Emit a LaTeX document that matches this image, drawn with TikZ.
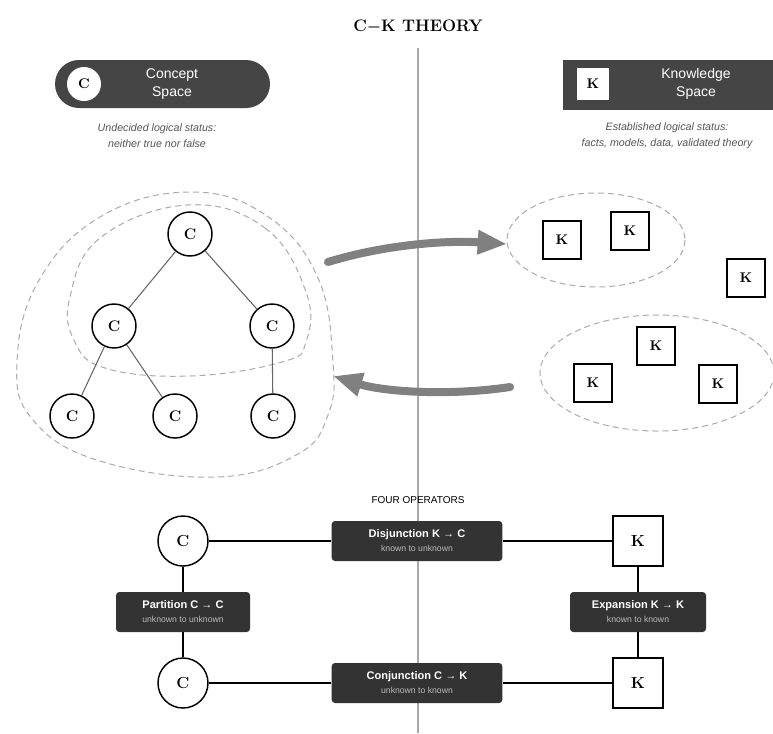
\documentclass[tikz,border=0pt]{standalone}
\usepackage{fontspec}
\setsansfont{Liberation Sans}
\usetikzlibrary{arrows.meta}
\definecolor{panelgray}{HTML}{454545}
\definecolor{opgray}{HTML}{333333}
\definecolor{capgray}{HTML}{555555}
\definecolor{subgray}{HTML}{BBBBBB}
\definecolor{dashgray}{HTML}{AAAAAA}
\definecolor{arrowgray}{HTML}{808080}

\begin{document}
\begin{tikzpicture}[x=0.75pt,y=-0.75pt,
	cnode/.style={draw,circle,line width=1.1pt,fill=white,inner sep=0pt,minimum size=33pt,font=\bfseries\fontsize{11.5}{13}\selectfont},
	knode/.style={draw,rectangle,line width=1.1pt,fill=white,inner sep=0pt,minimum size=28.5pt,font=\bfseries\fontsize{10.5}{12}\selectfont},
	opnode/.style={fill=opgray,rounded corners=2.5pt,text=white,align=center,minimum height=30pt,inner sep=0pt,font=\sffamily\bfseries\fontsize{8.3}{10.5}\selectfont},
	caption/.style={text=capgray,align=center,font=\sffamily\itshape\fontsize{8}{12}\selectfont},
	region/.style={draw=dashgray,line width=0.75pt,dash pattern=on 4.5pt off 3pt},
	flow/.style={draw=arrowgray,line width=6pt,line cap=round,-{Triangle[length=22pt,width=17pt]}},
	edge/.style={draw=black!60,line width=0.8pt}]
					\useasboundingbox (0,0) rectangle (773,733);
					\draw [line width=2.2pt,dashgray] (418,48) -- (418,733);
					\node (title) at (418,27) {\bfseries\fontsize{12.5}{14}\selectfont C{\boldmath$-$}K THEORY};
					\node[fill=panelgray,rounded corners=18pt,minimum width=161.25pt,minimum height=36pt] (cspace) at (162.5,84) {};
					\node[circle,fill=white,inner sep=0pt,minimum size=25.5pt,font=\bfseries\fontsize{10.5}{12}\selectfont] (cicon) at (84,84) {C};
					\node[text=white,align=center,font=\sffamily\fontsize{10.5}{13.5}\selectfont] (clabel) at (172,84) {Concept\\Space};
					\node[caption] (ccap) at (157,136) {Undecided logical status:\\neither true nor false};
					\node[fill=panelgray,minimum width=157.5pt,minimum height=37.5pt] (kspace) at (668,85) {};
					\node[fill=white,inner sep=0pt,minimum size=24pt,font=\bfseries\fontsize{10.5}{12}\selectfont] (kicon) at (593,84) {K};
					\node[text=white,align=center,font=\sffamily\fontsize{10.5}{13.5}\selectfont] (klabel) at (696,84) {Knowledge\\Space};
					\node[caption] (kcap) at (667,136) {Established logical status:\\facts, models, data, validated theory};
					\draw [region] plot[smooth cycle,tension=0.7] coordinates {(190,192) (267,216) (318,278) (333,363) (328,415) (298,454) (217,477) (100,461) (33,420) (17,363) (38,282) (100,217)};
					\draw [region] plot[smooth cycle,tension=0.7] coordinates {(187,205) (265,228) (306,292) (306,342) (282,362) (190,376) (105,368) (74,340) (70,297) (100,238)};
					\draw [region] (596,240) ellipse (89 and 47);
					\draw [region] (657,373) ellipse (117 and 58);
					\begin{scope}[every node/.style={cnode}]
						\node (C0) at (190,234) {C};
						\node (C1) at (114,326) {C};
						\node (C2) at (272,326) {C};
						\node (C3) at (72,416) {C};
						\node (C4) at (175,416) {C};
						\node (C5) at (273,416) {C};
					\end{scope}
					\draw [edge] (C0) -- (C1);
					\draw [edge] (C0) -- (C2);
					\draw [edge] (C1) -- (C3);
					\draw [edge] (C1) -- (C4);
					\draw [edge] (C2) -- (C5);
					\begin{scope}[every node/.style={knode}]
						\node (K1) at (562,240) {K};
						\node (K2) at (630,231) {K};
						\node (K3) at (746,278) {K};
						\node (K4) at (656,346) {K};
						\node (K5) at (593,383) {K};
						\node (K6) at (718,384) {K};
					\end{scope}
					\coordinate (out1) at (328,262);
					\coordinate (in1) at (507,244);
					\coordinate (out2) at (510,387);
					\coordinate (in2) at (333,376);
					\draw [flow] (out1) .. controls (380,246) and (440,240) .. (in1);
					\draw [flow] (out2) .. controls (450,396) and (385,392) .. (in2);
					\node[font=\sffamily\fontsize{7.5}{9}\selectfont] (four) at (418,500) {FOUR OPERATORS};
					\node[cnode,minimum size=37.5pt,font=\bfseries\fontsize{12}{14}\selectfont] (OC1) at (183,541) {C};
					\node[cnode,minimum size=37.5pt,font=\bfseries\fontsize{12}{14}\selectfont] (OC2) at (183,683) {C};
					\node[knode,minimum size=37.5pt,font=\bfseries\fontsize{12}{14}\selectfont] (OK1) at (638,541) {K};
					\node[knode,minimum size=37.5pt,font=\bfseries\fontsize{12}{14}\selectfont] (OK2) at (638,683) {K};
					\node[opnode,minimum width=128pt] (disj) at (417,541) {Disjunction K → C\\{\mdseries\fontsize{6.5}{8}\selectfont\color{subgray}known to unknown}};
					\node[opnode,minimum width=128pt] (conj) at (417,683) {Conjunction C → K\\{\mdseries\fontsize{6.5}{8}\selectfont\color{subgray}unknown to known}};
					\node[opnode,minimum width=100.5pt] (part) at (183,612) {Partition C → C\\{\mdseries\fontsize{6.5}{8}\selectfont\color{subgray}unknown to unknown}};
					\node[opnode,minimum width=102pt] (expa) at (638,612) {Expansion K → K\\{\mdseries\fontsize{6.5}{8}\selectfont\color{subgray}known to known}};
					\draw [line width=1.1pt] (OC1) -- (disj) -- (OK1);
					\draw [line width=1.1pt] (OC2) -- (conj) -- (OK2);
					\draw [line width=1.1pt] (OC1) -- (part) -- (OC2);
					\draw [line width=1.1pt] (OK1) -- (expa) -- (OK2);
				\end{tikzpicture}
\end{document}
